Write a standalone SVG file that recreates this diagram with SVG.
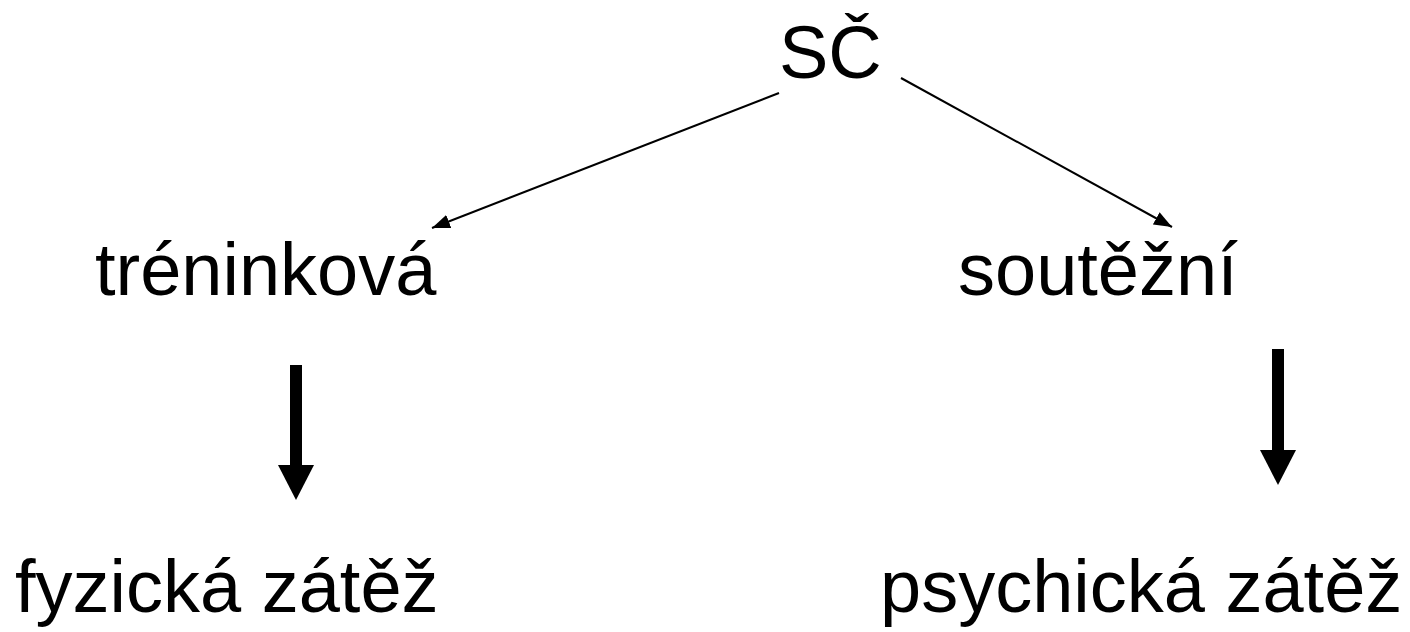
<svg xmlns="http://www.w3.org/2000/svg" width="1410" height="632" viewBox="0 0 1410 632">
<style>
text{font-family:"Liberation Sans",Arial,sans-serif;font-size:74px;fill:#000}
.thin{stroke:#000;stroke-width:2;fill:none}
.thick{stroke:#000;stroke-width:12;fill:none}
</style>
<defs>
<marker id="ah" markerUnits="userSpaceOnUse" markerWidth="19" markerHeight="15" refX="18" refY="7.5" orient="auto" viewBox="0 0 19 15"><path d="M0,0.5 L18,7.5 L0,14.5 z" fill="#000"/></marker>
<marker id="big" markerUnits="userSpaceOnUse" markerWidth="36" markerHeight="36" refX="0" refY="18" orient="auto" viewBox="0 0 36 36"><path d="M0,0 L35,18 L0,36 z" fill="#000"/></marker>
</defs>
<rect width="1410" height="632" fill="#fff"/>
<g id="connectors">
<line class="thin" x1="779" y1="93" x2="432" y2="228" marker-end="url(#ah)"/>
<line class="thin" x1="901" y1="78" x2="1172" y2="227" marker-end="url(#ah)"/>
<line class="thick" x1="296" y1="365" x2="296" y2="465" marker-end="url(#big)"/>
<line class="thick" x1="1278" y1="349" x2="1278" y2="450" marker-end="url(#big)"/>
</g>
<g id="node-sc"><text x="779" y="78">SČ</text></g>
<g id="node-treninkova"><text x="95" y="295">tréninková</text></g>
<g id="node-soutezni"><text x="958" y="295">soutěžní</text></g>
<g id="node-fyzicka"><text x="15" y="612">fyzická zátěž</text></g>
<g id="node-psychicka"><text x="880" y="612">psychická zátěž</text></g>
</svg>
